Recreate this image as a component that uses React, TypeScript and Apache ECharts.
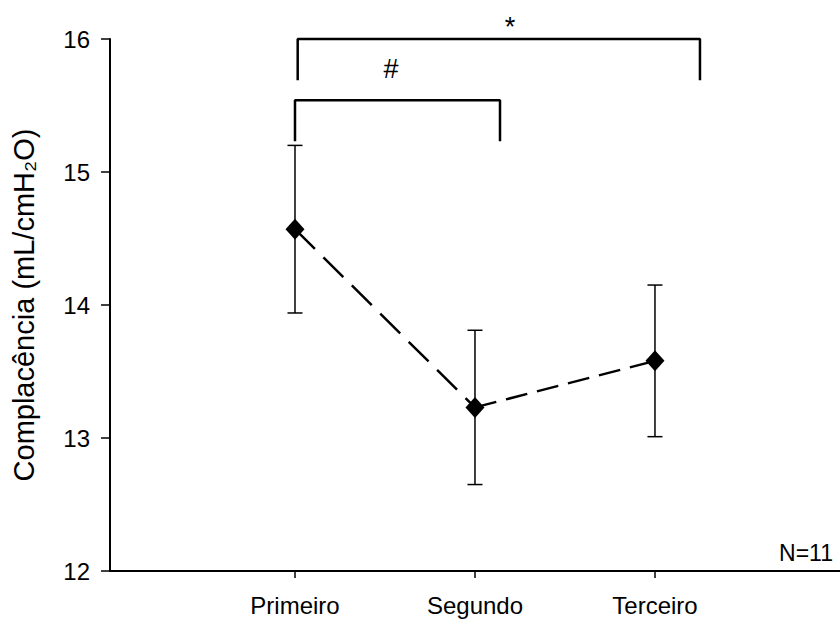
import React, { useEffect, useRef } from "react";
import * as echarts from "echarts";

const categories = ["Primeiro", "Segundo", "Terceiro"];
const positions = [1, 2, 3];
const means = [14.57, 13.23, 13.58];
const errors = [0.63, 0.58, 0.57];
const yTicks = [12, 13, 14, 15, 16];

// significance brackets (data coords)
const bracketStar = [[1.015, 15.7], [1.015, 16.0], [3.25, 16.0], [3.25, 15.7]];
const bracketHash = [[1.0, 15.24], [1.0, 15.54], [2.139, 15.54], [2.139, 15.24]];

const FONT = 'Arial, "Liberation Sans", sans-serif';

export default function App() {
  const ref = useRef<HTMLDivElement>(null);
  useEffect(() => {
    if (!ref.current) return;
    const chart = echarts.init(ref.current, null, { renderer: "svg" });
    const pts = positions.map((x, i) => [x, means[i]]);
    const errData = positions.map((x, i) => [x, means[i] - errors[i], means[i] + errors[i]]);
    const option: any = {
      animation: false,
      backgroundColor: "#ffffff",
      grid: { left: 110, right: 0, top: 39, bottom: 48, containLabel: false },
      xAxis: {
        type: "value",
        min: -0.0278,
        max: 4.028,
        splitLine: { show: false },
        axisLine: { show: true, onZero: false, lineStyle: { color: "#000", width: 2 } },
        axisTick: { show: true, customValues: positions, length: 7, inside: false, lineStyle: { color: "#000", width: 1.5 } },
        axisLabel: {
          customValues: positions,
          formatter: (v: number) => categories[positions.indexOf(Math.round(v))] ?? "",
          color: "#000",
          fontSize: 24,
          fontFamily: FONT,
          margin: 22,
        },
      },
      yAxis: {
        type: "value",
        min: 12,
        max: 16,
        interval: 1,
        splitLine: { show: false },
        axisLine: { show: true, onZero: false, lineStyle: { color: "#000", width: 2 } },
        axisTick: { show: true, length: 9, inside: false, lineStyle: { color: "#000", width: 1.5 } },
        axisLabel: {
          color: "#000",
          fontSize: 24,
          fontFamily: FONT,
          margin: 20,
          customValues: yTicks,
        },
        name: "Complacência (mL/cmH₂O)",
        nameLocation: "middle",
        nameGap: 72,
        nameRotate: 90,
        nameTextStyle: { color: "#000", fontSize: 29, fontFamily: FONT },
      },
      series: [
        {
          type: "custom",
          z: 3,
          data: errData,
          renderItem: (params: any, api: any) => {
            const x = api.value(0);
            const lo = api.coord([x, api.value(1)]);
            const hi = api.coord([x, api.value(2)]);
            const hw = 7.5;
            const style = { stroke: "#000", lineWidth: 1.5 };
            return {
              type: "group",
              children: [
                { type: "line", shape: { x1: lo[0], y1: lo[1], x2: hi[0], y2: hi[1] }, style },
                { type: "line", shape: { x1: lo[0] - hw, y1: lo[1], x2: lo[0] + hw, y2: lo[1] }, style },
                { type: "line", shape: { x1: hi[0] - hw, y1: hi[1], x2: hi[0] + hw, y2: hi[1] }, style },
              ],
            };
          },
        },
        {
          type: "line",
          z: 4,
          data: pts.slice(0, 2),
          symbol: "none",
          lineStyle: { color: "#000", width: 2.5, type: [28, 12] },
        },
        {
          type: "line",
          z: 4,
          data: pts.slice(1, 3),
          symbol: "none",
          lineStyle: { color: "#000", width: 2.5, type: [22, 10] },
        },
        {
          type: "scatter",
          z: 5,
          data: pts,
          symbol: "diamond",
          symbolSize: [19, 21],
          itemStyle: { color: "#000", opacity: 1 },
        },
        {
          type: "line",
          z: 4,
          data: bracketStar,
          symbol: "none",
          clip: false,
          lineStyle: { color: "#000", width: 2.5, cap: "square" },
        },
        {
          type: "line",
          z: 4,
          data: bracketHash,
          symbol: "none",
          clip: false,
          lineStyle: { color: "#000", width: 2.5, cap: "square" },
        },
      ],
      graphic: [
        { type: "text", x: 510, y: 27, style: { text: "*", font: `27px ${FONT}`, fill: "#000", align: "center", verticalAlign: "middle" } },
        { type: "text", x: 391, y: 69, style: { text: "#", font: `27px ${FONT}`, fill: "#000", align: "center", verticalAlign: "middle" } },
        { type: "text", x: 833, y: 553, style: { text: "N=11", font: `23px ${FONT}`, fill: "#000", align: "right", verticalAlign: "middle" } },
      ],
    };
    chart.setOption(option);
    return () => chart.dispose();
  }, []);
  return <div ref={ref} style={{ position: "fixed", left: 0, top: 0, width: 840, height: 619 }} />;
}
